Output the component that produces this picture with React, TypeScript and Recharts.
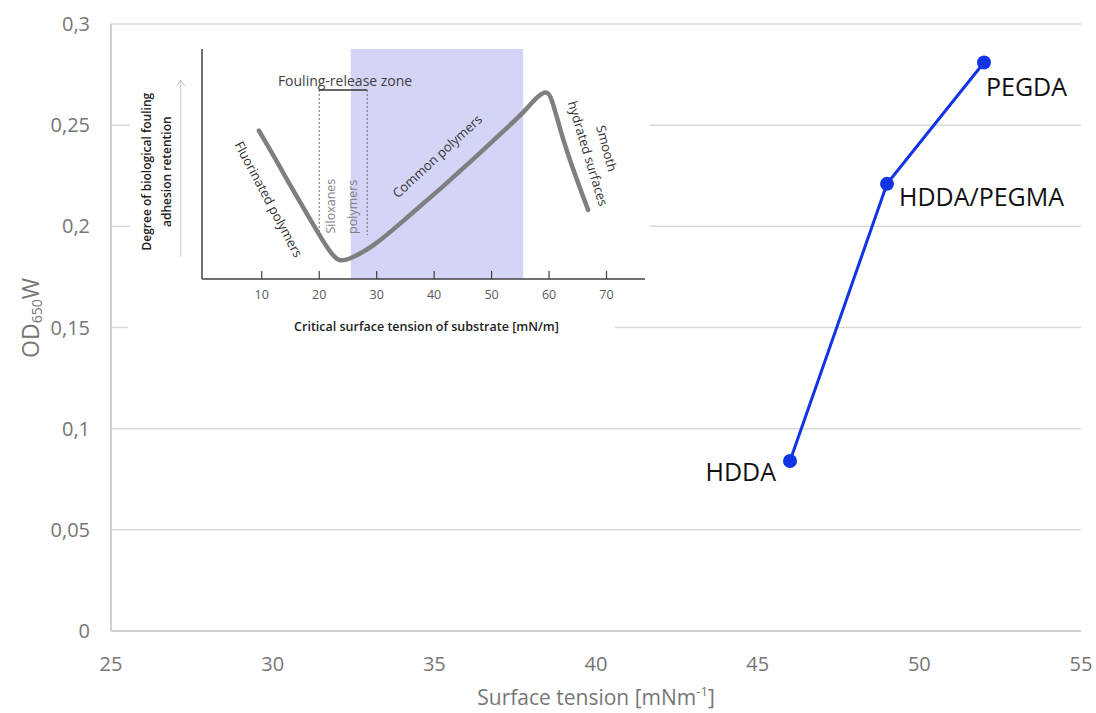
import React from 'react';
import {
  LineChart,
  Line,
  XAxis,
  YAxis,
  CartesianGrid,
  LabelList,
  ReferenceArea,
  ReferenceLine,
  ReferenceDot,
} from 'recharts';

// ---- main chart data ----
const materials = ['HDDA', 'HDDA/PEGMA', 'PEGDA'];
const surfaceTension = [46, 49, 52];
const od650w = [0.084, 0.221, 0.281];
const xTicks = [25, 30, 35, 40, 45, 50, 55];
const yTicks = [0, 0.05, 0.1, 0.15, 0.2, 0.25, 0.3];

// ---- inset (schematic) data ----
const insetX = [9.5, 12.0, 14.9, 17.8, 20.7, 22.4, 23.6, 25.3, 29.4, 35.2, 41.0, 46.8, 52.6, 56.0, 57.6, 59.3, 60.3, 61.9, 64.2, 66.8];
const insetY = [64.5, 53.9, 40.9, 28.6, 16.2, 10.0, 7.6, 8.6, 14.0, 26.5, 39.0, 52.0, 65.5, 73.5, 78.5, 81.8, 80.6, 64.8, 47.4, 30.0];
const insetTicks = [10, 20, 30, 40, 50, 60, 70];
const zoneRange = [25.5, 55.5];
const bracketX = [20, 28.35];
const bracketY = [82.2, 19.1];

const FONT = '"Open Sans", "Noto Sans", sans-serif';

const mainData = materials.map((m, i) => ({ name: m, x: surfaceTension[i], y: od650w[i] }));
const insetData = insetX.map((x, i) => ({ x, y: insetY[i] }));

const labelOffsets: Record<string, { dx: number; dy: number; anchor: 'start' | 'end' }> = {
  HDDA: { dx: -14, dy: 20, anchor: 'end' },
  'HDDA/PEGMA': { dx: 12, dy: 22, anchor: 'start' },
  PEGDA: { dx: 2, dy: 34, anchor: 'start' },
};

const PointLabel = (props: any) => {
  const { x, y, value } = props;
  const o = labelOffsets[value] || { dx: 0, dy: 0, anchor: 'start' };
  return (
    <text x={x + o.dx} y={y + o.dy} textAnchor={o.anchor} fontFamily={FONT} fontSize={25} fill="#111">
      {value}
    </text>
  );
};

const XTitle = (props: any) => {
  const vb = props.viewBox;
  const cx = vb.x + vb.width / 2;
  return (
    <text x={cx} y={vb.y + 74} textAnchor="middle" fontFamily={FONT} fontSize={21} fill="#767676">
      Surface tension [mNm
      <tspan fontSize={13} dy={-9}>-1</tspan>
      <tspan dy={9}>]</tspan>
    </text>
  );
};

const YTitle = () => {
  const cx = 30;
  const cy = 318;
  return (
    <text
      x={cx}
      y={cy}
      textAnchor="middle"
      dominantBaseline="central"
      transform={`rotate(-90, ${cx}, ${cy})`}
      fontFamily={FONT}
      fontSize={23}
      fill="#767676"
    >
      OD
      <tspan fontSize={14} dy={6}>650</tspan>
      <tspan dy={-6}>W</tspan>
    </text>
  );
};

const InsetTick = (props: any) => {
  const { x, y, payload } = props;
  return (
    <g>
      <line x1={x} x2={x} y1={y - 8} y2={y} stroke="#404040" strokeWidth={1.2} />
      <text x={x} y={y + 19.5} textAnchor="middle" fontFamily={FONT} fontSize={12.5} fill="#595959">
        {payload.value}
      </text>
    </g>
  );
};

const InsetXTitle = (props: any) => {
  const vb = props.viewBox;
  return (
    <text
      x={vb.x + vb.width / 2 + 3}
      y={vb.y + 51.5}
      textAnchor="middle"
      fontFamily={FONT}
      fontSize={12.5}
      fontWeight={600}
      fill="#222"
    >
      Critical surface tension of substrate [mN/m]
    </text>
  );
};

const InsetYTitle = (props: any) => {
  const vb = props.viewBox;
  const cy = vb.y + 122.7;
  const x1 = vb.x + 16.7;
  const x2 = vb.x + 36.7;
  const ax = vb.x + 50.7;
  const top = vb.y + 31;
  return (
    <g>
      <text
        x={x1}
        y={cy}
        textAnchor="middle"
        dominantBaseline="central"
        transform={`rotate(-90, ${x1}, ${cy})`}
        fontFamily={FONT}
        fontSize={12}
        fontWeight={600}
        fill="#222"
      >
        Degree of biological fouling
      </text>
      <text
        x={x2}
        y={cy}
        textAnchor="middle"
        dominantBaseline="central"
        transform={`rotate(-90, ${x2}, ${cy})`}
        fontFamily={FONT}
        fontSize={12}
        fontWeight={600}
        fill="#222"
      >
        adhesion retention
      </text>
      <line x1={ax} x2={ax} y1={top} y2={vb.y + 208} stroke="#c4c4c4" strokeWidth={1} />
      <polyline
        points={`${ax - 4},${top + 6} ${ax},${top} ${ax + 4},${top + 6}`}
        fill="none"
        stroke="#c4c4c4"
        strokeWidth={1}
      />
    </g>
  );
};

const makeAnnot = (text: string, angle: number, size: number, color: string) => (p: any) => {
  const { cx, cy } = p;
  return (
    <text
      x={cx}
      y={cy}
      textAnchor="middle"
      dominantBaseline="central"
      transform={`rotate(${angle}, ${cx}, ${cy})`}
      fontFamily={FONT}
      fontSize={size}
      fill={color}
    >
      {text}
    </text>
  );
};

export default function App() {
  return (
    <div style={{ position: 'absolute', left: 0, top: 0, width: 1096, height: 713, background: '#fff' }}>
      <div style={{ position: 'absolute', left: 0, top: 0 }}>
        <LineChart width={1096} height={713} data={mainData} margin={{ top: 24, right: 15, bottom: 22, left: 0 }}>
          <CartesianGrid vertical={false} stroke="#d9d9d9" strokeWidth={1.5} />
          <XAxis
            type="number"
            dataKey="x"
            domain={[25, 55]}
            ticks={xTicks}
            tickLine={false}
            axisLine={{ stroke: '#d0d0d0', strokeWidth: 2 }}
            tick={{ fill: '#767676', fontSize: 20, fontFamily: FONT }}
            tickMargin={20}
            height={60}
            label={<XTitle />}
          />
          <YAxis
            type="number"
            domain={[0, 0.3]}
            ticks={yTicks}
            width={111}
            tickLine={false}
            axisLine={{ stroke: '#d0d0d0', strokeWidth: 2 }}
            tick={{ fill: '#767676', fontSize: 20, fontFamily: FONT }}
            tickMargin={15}
            tickFormatter={(v: number) => String(v).replace('.', ',')}
            label={<YTitle />}
          />
          <Line
            type="linear"
            dataKey="y"
            stroke="#1034e6"
            strokeWidth={3}
            dot={{ r: 7, fill: '#1034e6', stroke: '#1034e6', strokeWidth: 0 }}
            isAnimationActive={false}
          >
            <LabelList dataKey="name" content={<PointLabel />} />
          </Line>
        </LineChart>
      </div>
      <div style={{ position: 'absolute', left: 130, top: 28, width: 520, height: 290, background: '#fff' }} />
      <div style={{ position: 'absolute', left: 128, top: 318, width: 487, height: 22, background: '#fff' }} />
      <div style={{ position: 'absolute', left: 130, top: 30 }}>
        <LineChart width={520} height={312} data={insetData} margin={{ top: 19, right: 5, bottom: 23, left: 0 }}>
          <ReferenceArea
            x1={zoneRange[0]}
            x2={zoneRange[1]}
            y1={0}
            y2={100}
            fill="#d4d4f7"
            fillOpacity={1}
            stroke="none"
          />
          <XAxis
            type="number"
            dataKey="x"
            domain={[-0.4, 76.7]}
            ticks={insetTicks}
            allowDataOverflow
            tickLine={false}
            tickSize={0}
            tickMargin={0}
            axisLine={{ stroke: '#404040', strokeWidth: 1.5 }}
            tick={<InsetTick />}
            height={40}
            label={<InsetXTitle />}
          />
          <YAxis
            type="number"
            domain={[0, 100]}
            width={72}
            tick={false}
            tickLine={false}
            axisLine={{ stroke: '#404040', strokeWidth: 1.5 }}
            label={<InsetYTitle />}
          />
          <ReferenceLine
            segment={[{ x: bracketX[0], y: bracketY[0] }, { x: bracketX[0], y: bracketY[1] }]}
            stroke="#666"
            strokeWidth={1}
            strokeDasharray="2 2"
          />
          <ReferenceLine
            segment={[{ x: bracketX[1], y: bracketY[0] }, { x: bracketX[1], y: bracketY[1] }]}
            stroke="#666"
            strokeWidth={1}
            strokeDasharray="2 2"
          />
          <ReferenceLine
            segment={[{ x: bracketX[0], y: bracketY[0] }, { x: bracketX[1], y: bracketY[0] }]}
            stroke="#333"
            strokeWidth={1.5}
          />
          <Line
            type="basis"
            dataKey="y"
            stroke="#7f7f7f"
            strokeWidth={4.5}
            strokeLinecap="round"
            dot={false}
            isAnimationActive={false}
          />
          <ReferenceDot x={24.5} y={86.5} r={0} shape={makeAnnot('Fouling-release zone', 0, 14, '#404040')} />
          <ReferenceDot x={11.25} y={34.7} r={0} shape={makeAnnot('Fluorinated polymers', 62, 13, '#333')} />
          <ReferenceDot x={21.9} y={31.7} r={0} shape={makeAnnot('Siloxanes', -90, 12.5, '#7f7f7f')} />
          <ReferenceDot x={25.8} y={31.4} r={0} shape={makeAnnot('polymers', -90, 12.5, '#7f7f7f')} />
          <ReferenceDot x={40.5} y={53.5} r={0} shape={makeAnnot('Common polymers', -42.5, 13, '#333')} />
          <ReferenceDot x={70.1} y={56.8} r={0} shape={makeAnnot('Smooth', 75, 13, '#333')} />
          <ReferenceDot x={66.8} y={54.6} r={0} shape={makeAnnot('hydrated surfaces', 73, 13, '#333')} />
        </LineChart>
      </div>
    </div>
  );
}
